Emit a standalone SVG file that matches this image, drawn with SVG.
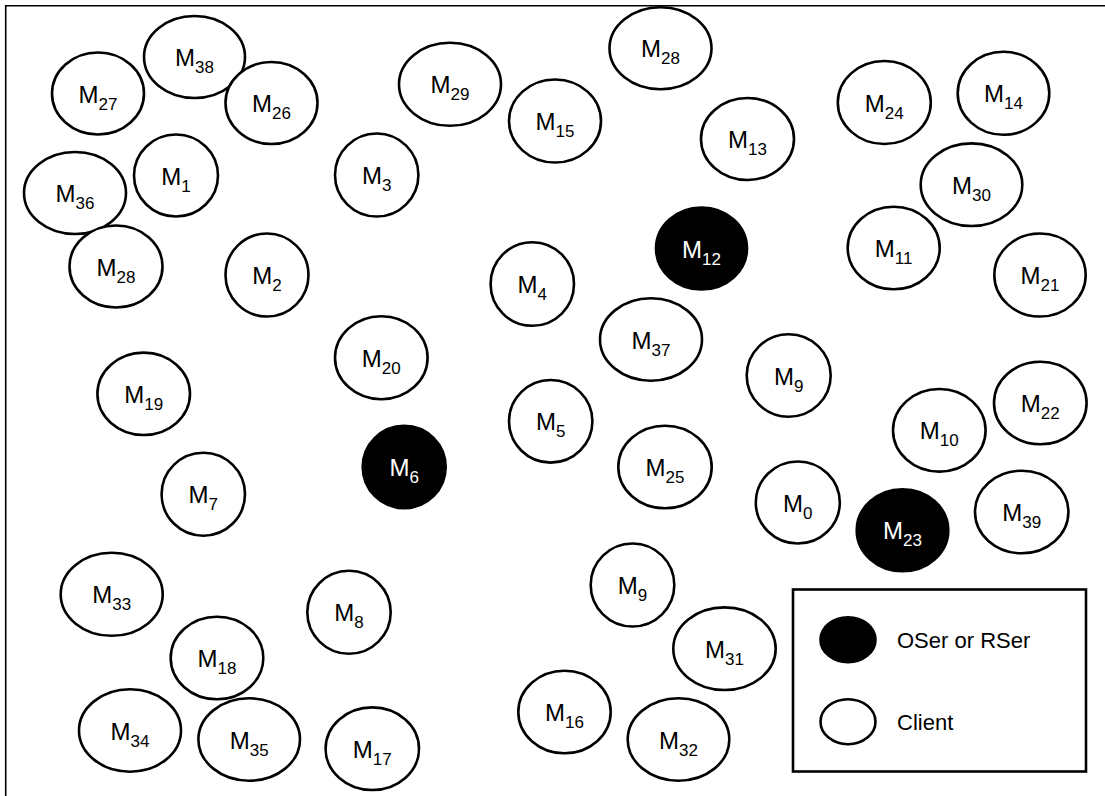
<svg xmlns="http://www.w3.org/2000/svg" width="1105" height="796" viewBox="0 0 1105 796">
  <style>
    .frame { stroke: #000; stroke-width: 1.6; fill: none; }
    .client ellipse { fill: #fff; stroke: #000; stroke-width: 2.6; }
    .server ellipse { fill: #000; stroke: #000; stroke-width: 2.6; }
    text { font-family: "Liberation Sans", Arial, sans-serif; font-size: 24px; text-anchor: middle; }
    .client text { fill: #000; }
    .server text { fill: #fff; }
    .sub { font-size: 17px; }
    .legend-box { fill: #fff; stroke: #000; stroke-width: 2.6; }
    .legend-label { text-anchor: start; font-size: 22px; fill: #000; }
  </style>

  <!-- outer frame (top and left edges only) -->
  <path class="frame" d="M5.7 796 V5.7 H1105"/>

  <!-- connectors: none between the machines -->
  <g id="connectors"/>

  <!-- machines -->
  <g id="nodes">
    <g id="m27" class="client"><ellipse cx="98" cy="93.5" rx="46" ry="41"/><text x="98" y="102.5">M<tspan class="sub" dy="7">27</tspan></text></g>
    <g id="m38" class="client"><ellipse cx="194.5" cy="57" rx="50.5" ry="41"/><text x="194.5" y="66">M<tspan class="sub" dy="7">38</tspan></text></g>
    <g id="m26" class="client"><ellipse cx="271.5" cy="103" rx="46" ry="41"/><text x="271.5" y="112">M<tspan class="sub" dy="7">26</tspan></text></g>
    <g id="m1" class="client"><ellipse cx="176" cy="175.5" rx="42" ry="41"/><text x="176" y="184.5">M<tspan class="sub" dy="7">1</tspan></text></g>
    <g id="m36" class="client"><ellipse cx="75" cy="193" rx="51" ry="41"/><text x="75" y="202">M<tspan class="sub" dy="7">36</tspan></text></g>
    <g id="m28a" class="client"><ellipse cx="116" cy="266.5" rx="46.5" ry="41"/><text x="116" y="275.5">M<tspan class="sub" dy="7">28</tspan></text></g>
    <g id="m3" class="client"><ellipse cx="376.7" cy="175" rx="41.7" ry="41.5"/><text x="376.7" y="184">M<tspan class="sub" dy="7">3</tspan></text></g>
    <g id="m2" class="client"><ellipse cx="267" cy="275" rx="41.5" ry="41.5"/><text x="267" y="284">M<tspan class="sub" dy="7">2</tspan></text></g>
    <g id="m29" class="client"><ellipse cx="450" cy="84.3" rx="51" ry="41.5"/><text x="450" y="93.3">M<tspan class="sub" dy="7">29</tspan></text></g>
    <g id="m15" class="client"><ellipse cx="555" cy="121" rx="46" ry="41.5"/><text x="555" y="130">M<tspan class="sub" dy="7">15</tspan></text></g>
    <g id="m28b" class="client"><ellipse cx="660.5" cy="48.3" rx="51" ry="41"/><text x="660.5" y="57.3">M<tspan class="sub" dy="7">28</tspan></text></g>
    <g id="m13" class="client"><ellipse cx="747.5" cy="139" rx="46.5" ry="41"/><text x="747.5" y="148">M<tspan class="sub" dy="7">13</tspan></text></g>
    <g id="m12" class="server"><ellipse cx="701.5" cy="248.5" rx="45.5" ry="41"/><text x="701.5" y="257.5">M<tspan class="sub" dy="7">12</tspan></text></g>
    <g id="m24" class="client"><ellipse cx="884.3" cy="102.5" rx="46.5" ry="41.5"/><text x="884.3" y="111.5">M<tspan class="sub" dy="7">24</tspan></text></g>
    <g id="m14" class="client"><ellipse cx="1003.5" cy="93.3" rx="45.8" ry="41.5"/><text x="1003.5" y="102.3">M<tspan class="sub" dy="7">14</tspan></text></g>
    <g id="m30" class="client"><ellipse cx="971.5" cy="184.7" rx="50.8" ry="41.3"/><text x="971.5" y="193.7">M<tspan class="sub" dy="7">30</tspan></text></g>
    <g id="m11" class="client"><ellipse cx="893.7" cy="248" rx="46" ry="41.3"/><text x="893.7" y="257">M<tspan class="sub" dy="7">11</tspan></text></g>
    <g id="m21" class="client"><ellipse cx="1040" cy="275" rx="45.7" ry="41.5"/><text x="1040" y="284">M<tspan class="sub" dy="7">21</tspan></text></g>
    <g id="m4" class="client"><ellipse cx="532.3" cy="284" rx="41.7" ry="41.8"/><text x="532.3" y="293">M<tspan class="sub" dy="7">4</tspan></text></g>
    <g id="m37" class="client"><ellipse cx="651" cy="339.5" rx="51" ry="41.2"/><text x="651" y="348.5">M<tspan class="sub" dy="7">37</tspan></text></g>
    <g id="m20" class="client"><ellipse cx="381.3" cy="357.7" rx="46.3" ry="41.5"/><text x="381.3" y="366.7">M<tspan class="sub" dy="7">20</tspan></text></g>
    <g id="m5" class="client"><ellipse cx="550.7" cy="421.3" rx="41.7" ry="41.3"/><text x="550.7" y="430.3">M<tspan class="sub" dy="7">5</tspan></text></g>
    <g id="m6" class="server"><ellipse cx="404.2" cy="467" rx="41.5" ry="41.3"/><text x="404.2" y="476">M<tspan class="sub" dy="7">6</tspan></text></g>
    <g id="m25" class="client"><ellipse cx="665" cy="467" rx="46.7" ry="41.3"/><text x="665" y="476">M<tspan class="sub" dy="7">25</tspan></text></g>
    <g id="m19" class="client"><ellipse cx="143.7" cy="393.8" rx="46.3" ry="41.2"/><text x="143.7" y="402.8">M<tspan class="sub" dy="7">19</tspan></text></g>
    <g id="m7" class="client"><ellipse cx="203.3" cy="494.2" rx="41.7" ry="41.5"/><text x="203.3" y="503.2">M<tspan class="sub" dy="7">7</tspan></text></g>
    <g id="m9a" class="client"><ellipse cx="788.7" cy="375.5" rx="42" ry="41.2"/><text x="788.7" y="384.5">M<tspan class="sub" dy="7">9</tspan></text></g>
    <g id="m22" class="client"><ellipse cx="1040.3" cy="403" rx="46.3" ry="41.3"/><text x="1040.3" y="412">M<tspan class="sub" dy="7">22</tspan></text></g>
    <g id="m10" class="client"><ellipse cx="939.3" cy="430.3" rx="46.3" ry="41.3"/><text x="939.3" y="439.3">M<tspan class="sub" dy="7">10</tspan></text></g>
    <g id="m0" class="client"><ellipse cx="797.8" cy="502.5" rx="42" ry="41"/><text x="797.8" y="511.5">M<tspan class="sub" dy="7">0</tspan></text></g>
    <g id="m23" class="server"><ellipse cx="902.5" cy="530.3" rx="45.8" ry="41"/><text x="902.5" y="539.3">M<tspan class="sub" dy="7">23</tspan></text></g>
    <g id="m39" class="client"><ellipse cx="1021.7" cy="512" rx="46.7" ry="41.3"/><text x="1021.7" y="521">M<tspan class="sub" dy="7">39</tspan></text></g>
    <g id="m33" class="client"><ellipse cx="111.7" cy="594.3" rx="51" ry="41.5"/><text x="111.7" y="603.3">M<tspan class="sub" dy="7">33</tspan></text></g>
    <g id="m18" class="client"><ellipse cx="217" cy="658" rx="46.3" ry="41.3"/><text x="217" y="667">M<tspan class="sub" dy="7">18</tspan></text></g>
    <g id="m8" class="client"><ellipse cx="349" cy="612.3" rx="41.7" ry="41.5"/><text x="349" y="621.3">M<tspan class="sub" dy="7">8</tspan></text></g>
    <g id="m34" class="client"><ellipse cx="130" cy="730.5" rx="51" ry="41.2"/><text x="130" y="739.5">M<tspan class="sub" dy="7">34</tspan></text></g>
    <g id="m35" class="client"><ellipse cx="249.2" cy="739.5" rx="50.8" ry="41.2"/><text x="249.2" y="748.5">M<tspan class="sub" dy="7">35</tspan></text></g>
    <g id="m17" class="client"><ellipse cx="372.3" cy="748.7" rx="46.7" ry="41.3"/><text x="372.3" y="757.7">M<tspan class="sub" dy="7">17</tspan></text></g>
    <g id="m9b" class="client"><ellipse cx="632.5" cy="585" rx="41.8" ry="41.5"/><text x="632.5" y="594">M<tspan class="sub" dy="7">9</tspan></text></g>
    <g id="m31" class="client"><ellipse cx="724.5" cy="648.7" rx="51.2" ry="41.3"/><text x="724.5" y="657.7">M<tspan class="sub" dy="7">31</tspan></text></g>
    <g id="m16" class="client"><ellipse cx="564.5" cy="712" rx="46.2" ry="41.3"/><text x="564.5" y="721">M<tspan class="sub" dy="7">16</tspan></text></g>
    <g id="m32" class="client"><ellipse cx="678.5" cy="739.5" rx="50.8" ry="41.2"/><text x="678.5" y="748.5">M<tspan class="sub" dy="7">32</tspan></text></g>
  </g>

  <!-- legend -->
  <g id="legend">
    <rect class="legend-box" x="793" y="589.5" width="293" height="182"/>
    <g id="legend-server" class="server"><ellipse cx="848" cy="639.7" rx="27.5" ry="22.5"/></g>
    <text class="legend-label" x="897" y="648">OSer or RSer</text>
    <g id="legend-client" class="client"><ellipse cx="848" cy="721.7" rx="27.5" ry="22.5"/></g>
    <text class="legend-label" x="897" y="730">Client</text>
  </g>
</svg>
